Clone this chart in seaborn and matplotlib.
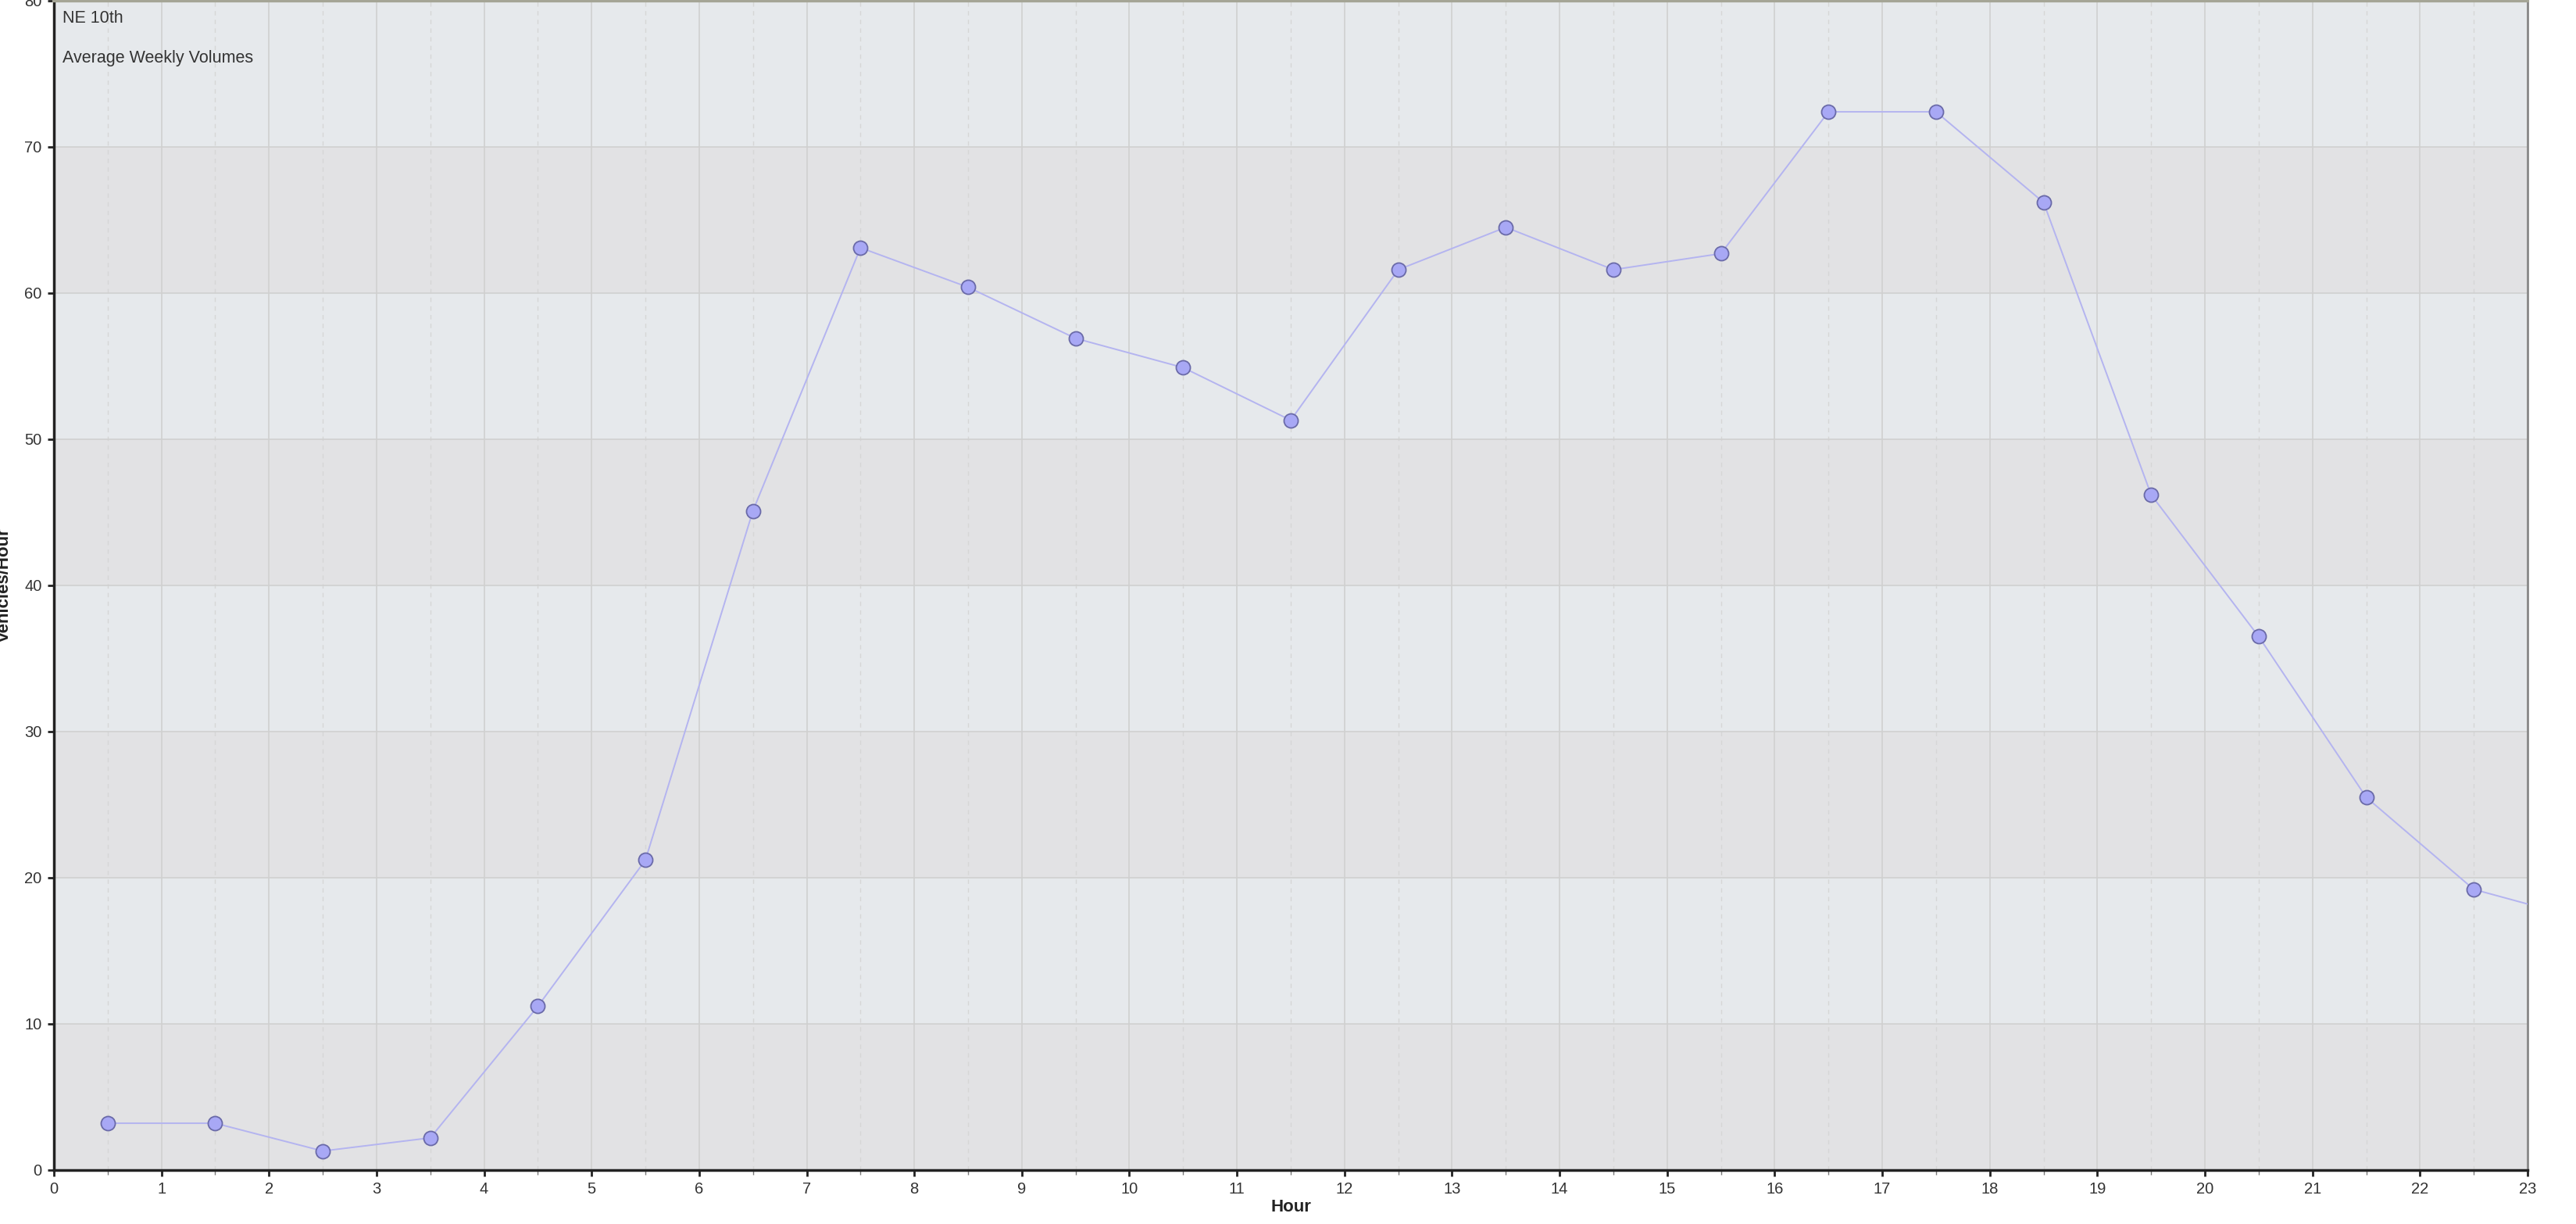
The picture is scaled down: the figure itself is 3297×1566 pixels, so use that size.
import matplotlib

matplotlib.use("Agg")
import matplotlib.pyplot as plt
import numpy as np
import pandas as pd
import seaborn as sns

sns.set_theme(style="white")
plt.rcParams["font.family"] = ["Liberation Sans", "DejaVu Sans"]

DPI = 100

# average weekly volumes per hour (bin centres)
hours = [0.5, 1.5, 2.5, 3.5, 4.5, 5.5, 6.5, 7.5, 8.5, 9.5, 10.5, 11.5,
         12.5, 13.5, 14.5, 15.5, 16.5, 17.5, 18.5, 19.5, 20.5, 21.5, 22.5, 23.5]
volumes = [3.2, 3.2, 1.3, 2.2, 11.2, 21.2, 45.1, 63.1, 60.4, 56.9, 54.9, 51.3,
           61.6, 64.5, 61.6, 62.7, 72.4, 72.4, 66.2, 46.2, 36.5, 25.5, 19.2, 17.2]

x_ticks = list(range(0, 24))
y_ticks = [0, 10, 20, 30, 40, 50, 60, 70, 80]
title_lines = ["NE 10th", "Average Weekly Volumes"]

df = pd.DataFrame({"Hour": hours, "Vehicles/Hour": volumes})

fig = plt.figure(figsize=(3297 / DPI, 1566 / DPI), dpi=DPI)
ax = fig.add_axes([0.0209, 0.0441, 0.9603, 0.9553])

# alternating horizontal bands
for i, (lo, hi) in enumerate(zip(y_ticks[:-1], y_ticks[1:])):
    ax.axhspan(lo, hi, color="#e2e2e4" if i % 2 == 0 else "#e6e9ec", zorder=0, lw=0)

sns.lineplot(
    data=df,
    x="Hour",
    y="Vehicles/Hour",
    ax=ax,
    color="#b4b4f0",
    linewidth=1.4,
    marker="o",
    markersize=13,
    markerfacecolor="#a8a8f5",
    markeredgecolor="#6a6aa8",
    markeredgewidth=1.3,
    zorder=3,
)

ax.set_xlim(0, 23)
ax.set_ylim(0, 80)
ax.set_xticks(x_ticks)
ax.set_xticks(np.arange(0.5, 23, 1), minor=True)
ax.set_yticks(y_ticks)

ax.grid(True, which="major", color="#d0d0d0", linewidth=1.2, zorder=1)
ax.grid(True, which="minor", axis="x", color="#d6d6d6", linewidth=1.0,
        linestyle=(0, (4, 4)), zorder=1)
ax.set_axisbelow(True)

ax.tick_params(axis="both", which="major", direction="out", length=6, width=2,
               color="#222222", labelsize=14.5, labelcolor="#333333", pad=5,
               bottom=True, left=True)
ax.tick_params(axis="x", which="minor", direction="out", length=4, width=1,
               color="#777777", bottom=True)

for side in ["left", "bottom"]:
    ax.spines[side].set_color("#222222")
    ax.spines[side].set_linewidth(2.5)
ax.spines["right"].set_color("#888888")
ax.spines["right"].set_linewidth(2)
ax.spines["top"].set_color("#a5a596")
ax.spines["top"].set_linewidth(3)

ax.set_xlabel("Hour", fontsize=16, fontweight="bold", color="#222222", labelpad=2)
ax.set_ylabel("Vehicles/Hour", fontsize=16, fontweight="bold", color="#222222")
ax.yaxis.set_label_coords(-0.0168, 0.5)

ax.text(0.0035, 0.992, title_lines[0], transform=ax.transAxes, fontsize=15.5,
        color="#333333", va="top", ha="left")
ax.text(0.0035, 0.958, title_lines[1], transform=ax.transAxes, fontsize=15.5,
        color="#333333", va="top", ha="left")

fig.savefig("out.png", dpi=DPI, facecolor="white")
